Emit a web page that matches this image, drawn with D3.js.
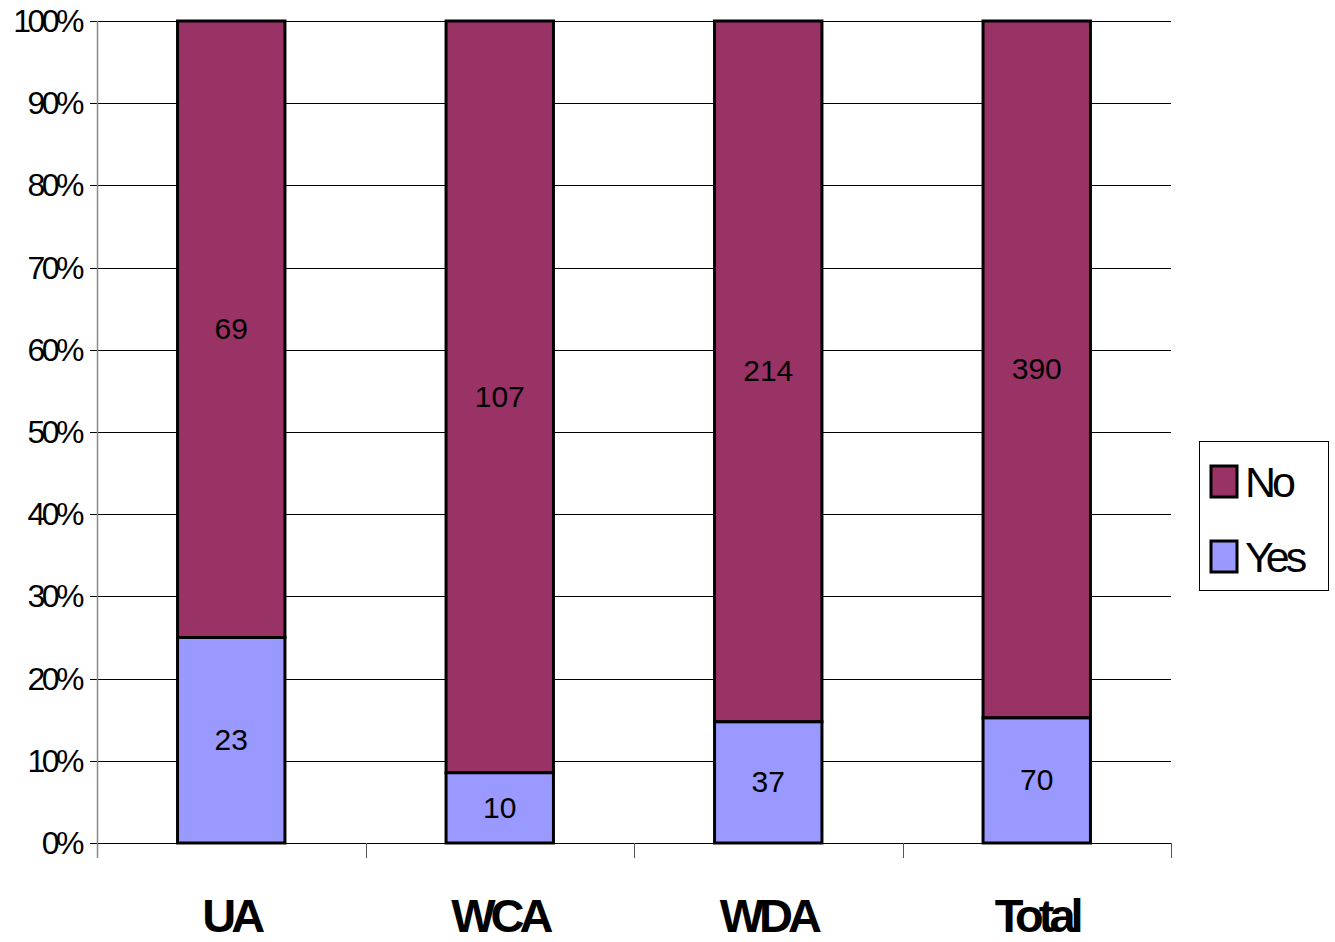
<!DOCTYPE html>
<html>
<head>
<meta charset="utf-8">
<script src="https://cdn.jsdelivr.net/npm/d3@7"></script>
<style>
  body { margin: 0; background: #fff; }
  svg { font-family: "Liberation Sans", Arial, sans-serif; }
</style>
</head>
<body>
<script>
const categories = ['UA', 'WCA', 'WDA', 'Total']
const yesCounts = [23, 10, 37, 70]
const noCounts = [69, 107, 214, 390]
const yTicks = [0, 0.1, 0.2, 0.3, 0.4, 0.5, 0.6, 0.7, 0.8, 0.9, 1]

const width = 1335, height = 942
const plotLeft = 97, plotRight = 1171, plotTop = 21, plotBottom = 843

let svg = d3.select('body').append('svg')
  .attr('width', width)
  .attr('height', height)

let x = d3.scaleBand().domain(categories).range([plotLeft, plotRight]).paddingInner(0).paddingOuter(0)
let y = d3.scaleLinear().domain([0, 1]).range([plotBottom, plotTop])
let barW = x.bandwidth() * 0.4

// gridlines + y ticks
svg.append('g')
  .selectAll('line')
  .data(yTicks)
  .join('line')
  .attr('x1', plotLeft - 7)
  .attr('x2', plotRight)
  .attr('y1', d => Math.round(y(d)) + 0.5)
  .attr('y2', d => Math.round(y(d)) + 0.5)
  .attr('stroke', '#000')
  .attr('stroke-width', 1)

svg.append('g')
  .selectAll('text')
  .data(yTicks)
  .join('text')
  .attr('x', plotLeft - 16)
  .attr('y', d => y(d) + 11)
  .attr('text-anchor', 'end')
  .attr('font-size', 32)
  .attr('letter-spacing', -3.5)
  .text(d => d3.format('.0%')(d))

// y axis line
svg.append('line')
  .attr('x1', plotLeft + 0.5).attr('x2', plotLeft + 0.5)
  .attr('y1', plotTop).attr('y2', plotBottom + 15)
  .attr('stroke', '#888').attr('stroke-width', 1.5)

// category ticks
let catEdges = categories.map(c => x(c)).concat([plotRight])
svg.append('g')
  .selectAll('line')
  .data(catEdges.slice(1))
  .join('line')
  .attr('x1', d => Math.round(d) + 0.5)
  .attr('x2', d => Math.round(d) + 0.5)
  .attr('y1', plotBottom)
  .attr('y2', plotBottom + 15)
  .attr('stroke', '#555')

// stacked bars
let rows = categories.map((c, i) => {
  let total = yesCounts[i] + noCounts[i]
  return { cat: c, yes: yesCounts[i], no: noCounts[i], yesP: yesCounts[i] / total }
})

let bars = svg.append('g')
rows.forEach(r => {
  let bx = x(r.cat) + (x.bandwidth() - barW) / 2
  bars.append('rect')
    .attr('x', bx).attr('width', barW)
    .attr('y', y(1)).attr('height', y(r.yesP) - y(1))
    .attr('fill', '#993366').attr('stroke', '#000').attr('stroke-width', 3)
  bars.append('rect')
    .attr('x', bx).attr('width', barW)
    .attr('y', y(r.yesP)).attr('height', y(0) - y(r.yesP))
    .attr('fill', '#9999FF').attr('stroke', '#000').attr('stroke-width', 3)

  let cx = x(r.cat) + x.bandwidth() / 2
  bars.append('text')
    .attr('x', cx).attr('y', y((1 + r.yesP) / 2) + 10)
    .attr('text-anchor', 'middle').attr('font-size', 30)
    .text(r.no)
  bars.append('text')
    .attr('x', cx).attr('y', y(r.yesP / 2) + 10)
    .attr('text-anchor', 'middle').attr('font-size', 30)
    .text(r.yes)
})

// category labels
svg.append('g')
  .selectAll('text')
  .data(categories)
  .join('text')
  .attr('x', d => x(d) + x.bandwidth() / 2)
  .attr('y', 932)
  .attr('text-anchor', 'middle')
  .attr('font-size', 47)
  .attr('font-weight', 'bold')
  .attr('letter-spacing', -5)
  .text(d => d)

// legend
let legend = svg.append('g')
legend.append('rect')
  .attr('x', 1199.5).attr('y', 441.5).attr('width', 129).attr('height', 149)
  .attr('fill', '#fff').attr('stroke', '#000').attr('stroke-width', 1)
let legendItems = [{ name: 'No', color: '#993366' }, { name: 'Yes', color: '#9999FF' }]
legendItems.forEach((d, i) => {
  legend.append('rect')
    .attr('x', 1211).attr('y', 466 + i * 75).attr('width', 26).attr('height', 31)
    .attr('fill', d.color).attr('stroke', '#000').attr('stroke-width', 3)
  legend.append('text')
    .attr('x', 1245).attr('y', 497 + i * 75)
    .attr('font-size', 43).attr('letter-spacing', -4)
    .text(d.name)
})
</script>
</body>
</html>
